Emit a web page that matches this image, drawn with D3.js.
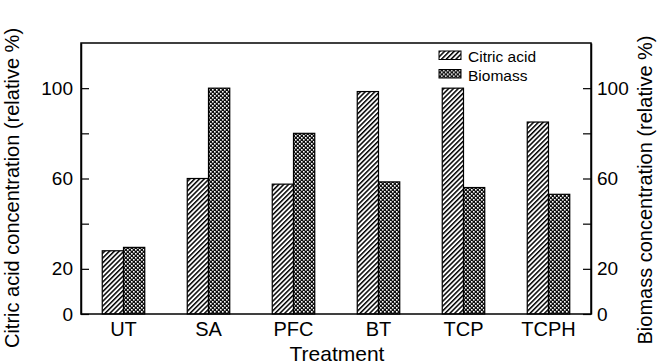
<!DOCTYPE html>
<html>
<head>
<meta charset="utf-8">
<script src="https://cdn.jsdelivr.net/npm/d3@7"></script>
<style>
  body { margin: 0; background: #fff; }
  text { font-family: "Liberation Sans", Arial, sans-serif; fill: #000; }
</style>
</head>
<body>
<div id="chart"></div>
<script>
// Data
const treatments = ['UT', 'SA', 'PFC', 'BT', 'TCP', 'TCPH'];
const seriesNames = ['Citric acid', 'Biomass'];
const citricAcid = [28, 60, 57.5, 98.5, 100, 85];
const biomass = [29.5, 100, 80, 58.5, 56, 53];
const tickValues = [0, 20, 40, 60, 80, 100];
const tickLabels = [0, 20, 60, 100];

const width = 657, height = 364;
const margin = [43, 66, 50, 81]; // top, right, bottom, left

const svg = d3.select('#chart').append('svg')
    .attr('width', width)
    .attr('height', height);

// Patterns for the two series
const defs = svg.append('defs');
const hatch = defs.append('pattern')
    .attr('id', 'hatch')
    .attr('patternUnits', 'userSpaceOnUse')
    .attr('width', 3.4).attr('height', 3.4)
    .attr('patternTransform', 'rotate(45)');
hatch.append('rect').attr('width', 3.4).attr('height', 3.4).attr('fill', '#fff');
hatch.append('rect').attr('width', 1.5).attr('height', 3.4).attr('fill', '#000');

const check = defs.append('pattern')
    .attr('id', 'check')
    .attr('patternUnits', 'userSpaceOnUse')
    .attr('width', 4).attr('height', 4);
check.append('rect').attr('width', 4).attr('height', 4).attr('fill', '#111');
check.append('rect').attr('x', 0).attr('y', 0).attr('width', 1.6).attr('height', 1.6).attr('fill', '#fff');
check.append('rect').attr('x', 2).attr('y', 2).attr('width', 1.6).attr('height', 1.6).attr('fill', '#fff');

const fills = ['url(#hatch)', 'url(#check)'];

const innerW = width - margin[1] - margin[3];
const innerH = height - margin[0] - margin[2];

const chart = svg.append('g')
    .attr('transform', `translate(${margin[3]}, ${margin[0]})`);

// Scales
const x = d3.scaleBand()
    .domain(treatments)
    .range([0, innerW]);

const xSub = d3.scaleBand()
    .domain(seriesNames)
    .range([x.bandwidth() * 0.25, x.bandwidth() * 0.75]);

const y = d3.scaleLinear()
    .domain([0, 120])
    .range([innerH, 0]);

// Bars
const rows = treatments.map((t, i) => ({ t, values: [citricAcid[i], biomass[i]] }));

const groups = chart.selectAll('g.group')
    .data(rows)
    .join('g')
    .attr('class', 'group')
    .attr('transform', d => `translate(${x(d.t)}, 0)`);

groups.selectAll('rect')
    .data(d => d.values.map((v, j) => ({ name: seriesNames[j], v, j })))
    .join('rect')
    .attr('x', d => xSub(d.name))
    .attr('y', d => y(d.v))
    .attr('width', xSub.bandwidth())
    .attr('height', d => innerH - y(d.v))
    .attr('fill', d => fills[d.j])
    .attr('stroke', '#000')
    .attr('stroke-width', 1.2);

// Frame
chart.append('rect')
    .attr('width', innerW)
    .attr('height', innerH)
    .attr('fill', 'none')
    .attr('stroke', '#000')
    .attr('stroke-width', 1.5);

// Axes with inward ticks
const fmt = d => tickLabels.includes(d) ? d : '';
const axisL = chart.append('g')
    .call(d3.axisLeft(y).tickValues(tickValues).tickSizeInner(-8).tickSizeOuter(0).tickPadding(8).tickFormat(fmt));
const axisR = chart.append('g')
    .attr('transform', `translate(${innerW}, 0)`)
    .call(d3.axisRight(y).tickValues(tickValues).tickSizeInner(-8).tickSizeOuter(0).tickPadding(6).tickFormat(fmt));
const axisB = chart.append('g')
    .attr('transform', `translate(0, ${innerH})`)
    .call(d3.axisBottom(x).tickSize(0).tickPadding(8));

[axisL, axisR].forEach(a => {
    a.select('.domain').attr('stroke-width', 1.5);
    a.selectAll('line').attr('stroke-width', 1.2);
    a.selectAll('text').style('font-size', '19px');
});
axisB.selectAll('text').style('font-size', '20px');
axisB.select('.domain').remove();

// Axis titles
svg.append('text')
    .attr('x', 337)
    .attr('y', height - 3)
    .style('text-anchor', 'middle')
    .style('font-size', '21px')
    .text('Treatment');

svg.append('text')
    .attr('transform', 'rotate(-90)')
    .attr('x', -188)
    .attr('y', 19)
    .style('text-anchor', 'middle')
    .style('font-size', '20px')
    .text('Citric acid concentration (relative %)');

svg.append('text')
    .attr('transform', 'rotate(-90)')
    .attr('x', -190)
    .attr('y', 652)
    .style('text-anchor', 'middle')
    .style('font-size', '20px')
    .text('Biomass concentration (relative %)');

// Legend
const legend = chart.append('g')
    .attr('transform', 'translate(358, 8)');
const items = legend.selectAll('g')
    .data(seriesNames)
    .join('g')
    .attr('transform', (d, i) => `translate(0, ${i * 18.5})`);
items.append('rect')
    .attr('width', 22).attr('height', 8.5)
    .attr('fill', (d, i) => fills[i])
    .attr('stroke', '#000')
    .attr('stroke-width', 1);
items.append('text')
    .attr('x', 29)
    .attr('y', 11)
    .style('font-size', '15.5px')
    .text(d => d);
</script>
</body>
</html>
